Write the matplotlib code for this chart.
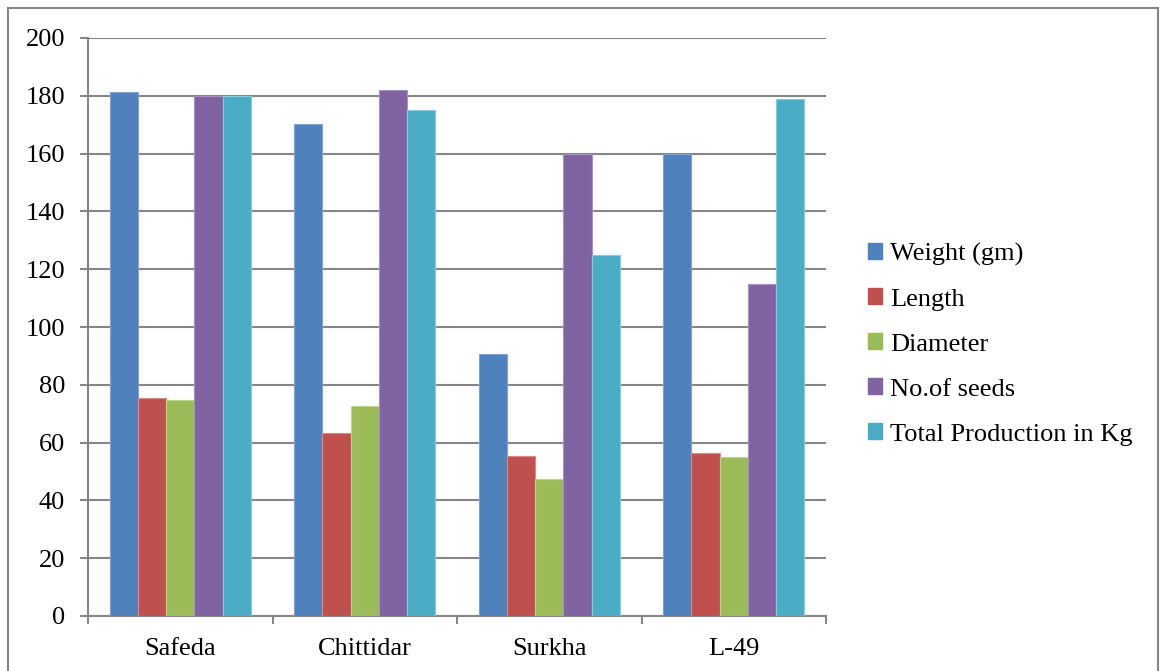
import matplotlib
matplotlib.use("Agg")
import matplotlib.pyplot as plt
import numpy as np
from matplotlib.patches import Patch, Rectangle

varieties = ["Safeda", "Chittidar", "Surkha", "L-49"]
series_names = ["Weight (gm)", "Length", "Diameter", "No.of seeds", "Total Production in Kg"]
weight = [181.4, 170.2, 90.8, 160.0]
length = [75.5, 63.4, 55.3, 56.4]
diameter = [74.8, 72.6, 47.3, 55.1]
seeds = [180.0, 182.0, 160.0, 115.0]
production = [180.0, 175.0, 125.0, 179.0]
colors = ["#4F81BD", "#C0504D", "#9BBB59", "#8064A2", "#4BACC6"]
edge_colors = ["#7FA3D3", "#D98A88", "#BFD58F", "#A890C4", "#86CCDC"]
y_ticks = list(range(0, 201, 20))

plt.rcParams["font.family"] = ["Liberation Serif", "DejaVu Serif"]

fig = plt.figure(figsize=(11.6, 6.71), dpi=100)
W, H = 1160, 671
ax = fig.add_axes([88 / W, (H - 616) / H, (826 - 88) / W, (616 - 38) / H])

all_series = [weight, length, diameter, seeds, production]
x = np.arange(len(varieties))
bw = 0.153
offsets = (np.arange(len(all_series)) - 2) * bw
for vals, off, c, ec, name in zip(all_series, offsets, colors, edge_colors, series_names):
    ax.bar(x + off, vals, width=bw, color=c, edgecolor=ec, linewidth=0.8,
           label=name, zorder=3)

ax.set_xlim(-0.5, len(varieties) - 0.5)
ax.set_ylim(0, 200)
ax.set_yticks(y_ticks)
ax.set_yticklabels([str(v) for v in y_ticks])
ax.grid(axis="y", color="#868686", linewidth=1.5, zorder=0)
ax.set_axisbelow(True)

ax.set_xticks(x)
ax.set_xticklabels(varieties)
ax.set_xticks(np.arange(-0.5, len(varieties)), minor=True)
ax.tick_params(axis="x", which="major", length=0, pad=16, labelsize=19)
ax.tick_params(axis="x", which="minor", length=6, width=1.5, color="#868686", direction="out")
ax.tick_params(axis="y", length=6, width=1.5, color="#868686", pad=10.5, labelsize=19)

for s in ["top", "right"]:
    ax.spines[s].set_visible(False)
for s in ["left", "bottom"]:
    ax.spines[s].set_color("#868686")
    ax.spines[s].set_linewidth(1.5)

handles = [Patch(facecolor=c, edgecolor=c) for c in colors]
fig.legend(handles, series_names, loc="center left",
           bbox_to_anchor=(857 / W, (H - 344) / H), frameon=False,
           fontsize=19, handlelength=0.55, handleheight=0.55,
           handletextpad=0.3, labelspacing=0.86, borderaxespad=0)

fig.patches.append(Rectangle((8 / W, -0.05), (1158 - 8) / W, (H - 8) / H + 0.05,
                             transform=fig.transFigure, fill=False,
                             edgecolor="#868686", linewidth=1.5))

fig.savefig("out.png", dpi=100)
